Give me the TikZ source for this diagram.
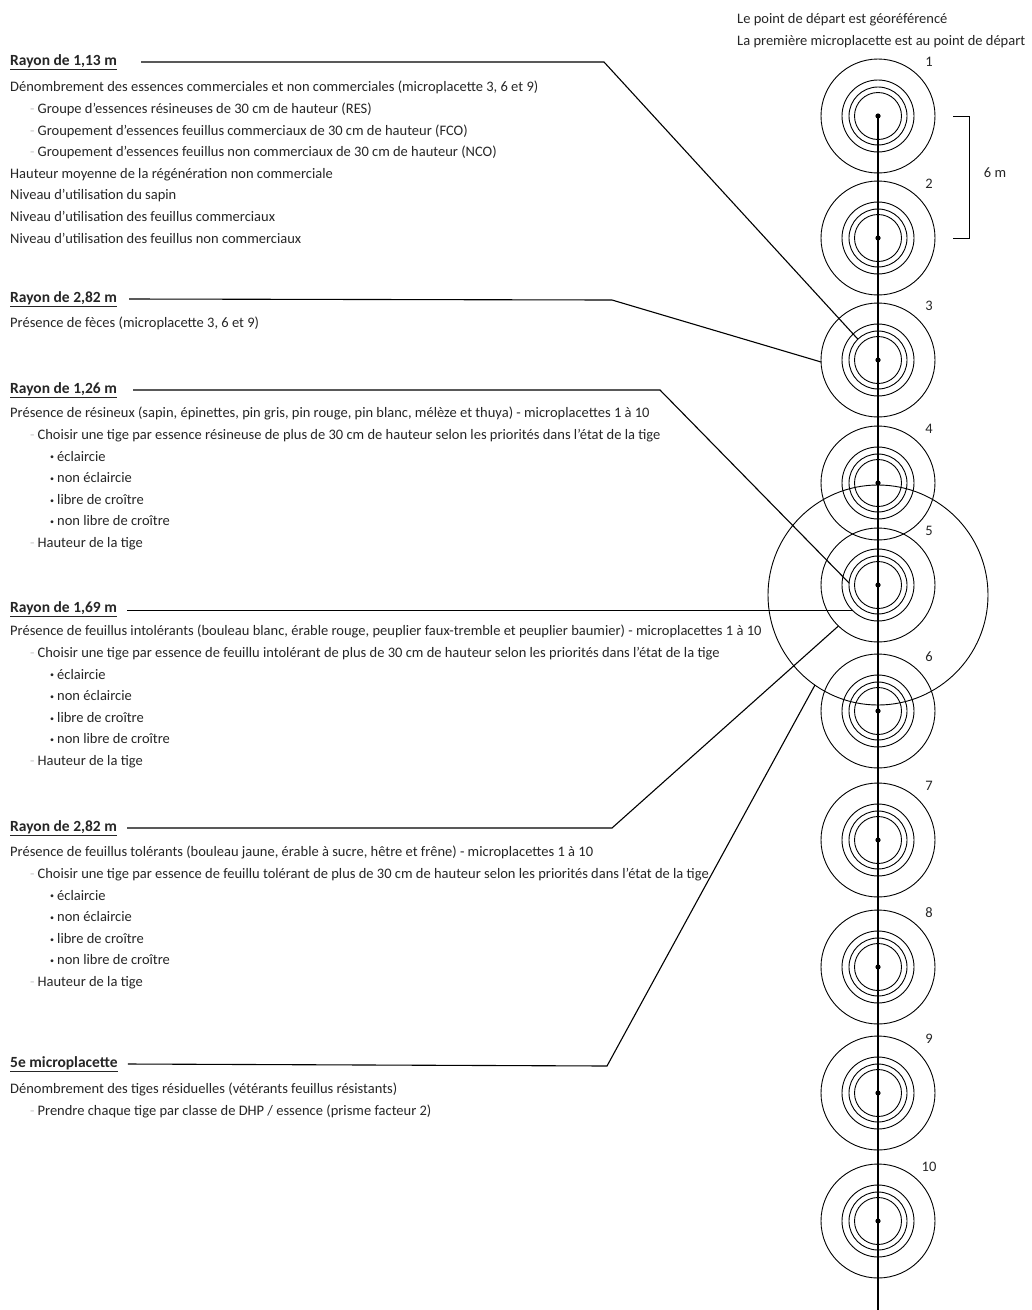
\documentclass[tikz,border=0pt]{standalone}
\usepackage{fontspec}
\setmainfont{Carlito}
\usetikzlibrary{calc}
\definecolor{txtc}{HTML}{262626}
\newcommand{\dsh}{{\color{gray!45}-}\hspace{3pt}}
\newcommand{\bul}{\hspace*{40pt}{\footnotesize\raisebox{1.2pt}{\textbullet}}\hspace{3pt}}
\newcommand{\ind}{\hspace*{20pt}}
\begin{document}
\begin{tikzpicture}[x=1pt,y=-1pt,
  txt/.style={inner sep=0pt,text=txtc,font=\fontsize{14.5}{21.6}\selectfont,align=left},
  head/.style={txt,anchor=west,font=\fontsize{15.5}{16}\selectfont\bfseries},
  body/.style={txt,anchor=north west},
  ring/.style={line width=0.9pt},
  leader/.style={line width=1.1pt},
  num/.style={inner sep=0pt,text=txtc,font=\fontsize{14.5}{16}\selectfont}]
\useasboundingbox (0,0) rectangle (1032,1310);
\fill[white] (0,0) rectangle (1032,1310);

% circle centres
\coordinate (c1) at (878,116);
\coordinate (c2) at (878,238);
\coordinate (c3) at (878,360);
\coordinate (c4) at (878,483);
\coordinate (c5) at (878,585);
\coordinate (c6) at (878,711);
\coordinate (c7) at (878,840);
\coordinate (c8) at (878,967);
\coordinate (c9) at (878,1093);
\coordinate (c10) at (878,1221);
\coordinate (cb) at (878,595);
\coordinate (bottom) at (878,1310);

% big circle around 5
\draw[ring] (cb) circle[radius=110pt];
% microplots
\foreach \i in {1,...,10}{
  \draw[ring] (c\i) circle[radius=57pt];
  \draw[ring] (c\i) circle[radius=36pt];
  \draw[ring] (c\i) circle[radius=29pt];
  \draw[ring] (c\i) circle[radius=23.5pt];
  \fill (c\i) circle[radius=2.6pt];
  \node[num] (n\i) at ($(c\i)+(51,-54)$) {\i};
}
\draw[line width=1.3pt] (c1) -- (bottom);

% bracket 6 m
\coordinate (br1) at ($(c1)+(75,0)$);
\coordinate (br2) at ($(c2)+(75,0)$);
\draw[line width=1pt] (br1) -- ++(16,0) coordinate (br1b) -- (br1b |- br2) -- (br2);
\node[num] (six) at (995,173) {6 m};

% top right text
\node[txt,anchor=west] (top1) at (737,20) {Le point de départ est géoréférencé};
\node[txt,anchor=west] (top2) at (737,42) {La première microplacette est au point de départ};

% ---- block 1
\node[head] (h1) at (10,62) {\underline{Rayon de 1,13 m}};
\node[body] (b1) at (10,81) {Dénombrement des essences commerciales et non commerciales (microplacette 3, 6 et 9)\\
\ind\dsh Groupe d'essences résineuses de 30 cm de hauteur (RES)\\
\ind\dsh Groupement d'essences feuillus commerciaux de 30 cm de hauteur (FCO)\\
\ind\dsh Groupement d'essences feuillus non commerciaux de 30 cm de hauteur (NCO)\\
Hauteur moyenne de la régénération non commerciale\\
Niveau d'utilisation du sapin\\
Niveau d'utilisation des feuillus commerciaux\\
Niveau d'utilisation des feuillus non commerciaux};

% ---- block 2
\node[head] (h2) at (10,299) {\underline{Rayon de 2,82 m}};
\node[body] (b2) at (10,317) {Présence de fèces (microplacette 3, 6 et 9)};

% ---- block 3
\node[head] (h3) at (10,390) {\underline{Rayon de 1,26 m}};
\node[body] (b3) at (10,407) {Présence de résineux (sapin, épinettes, pin gris, pin rouge, pin blanc, mélèze et thuya) - microplacettes 1 à 10\\
\ind\dsh Choisir une tige par essence résineuse de plus de 30 cm de hauteur selon les priorités dans l'état de la tige\\
\bul éclaircie\\
\bul non éclaircie\\
\bul libre de croître\\
\bul non libre de croître\\
\ind\dsh Hauteur de la tige};

% ---- block 4
\node[head] (h4) at (10,609) {\underline{Rayon de 1,69 m}};
\node[body] (b4) at (10,625) {Présence de feuillus intolérants (bouleau blanc, érable rouge, peuplier faux-tremble et peuplier baumier) - microplacettes 1 à 10\\
\ind\dsh Choisir une tige par essence de feuillu intolérant de plus de 30 cm de hauteur selon les priorités dans l'état de la tige\\
\bul éclaircie\\
\bul non éclaircie\\
\bul libre de croître\\
\bul non libre de croître\\
\ind\dsh Hauteur de la tige};

% ---- block 5
\node[head] (h5) at (10,828) {\underline{Rayon de 2,82 m}};
\node[body] (b5) at (10,846) {Présence de feuillus tolérants (bouleau jaune, érable à sucre, hêtre et frêne) - microplacettes 1 à 10\\
\ind\dsh Choisir une tige par essence de feuillu tolérant de plus de 30 cm de hauteur selon les priorités dans l'état de la tige\\
\bul éclaircie\\
\bul non éclaircie\\
\bul libre de croître\\
\bul non libre de croître\\
\ind\dsh Hauteur de la tige};

% ---- block 6
\node[head] (h6) at (10,1064) {\underline{5e microplacette}};
\node[body] (b6) at (10,1083) {Dénombrement des tiges résiduelles (vétérants feuillus résistants)\\
\ind\dsh Prendre chaque tige par classe de DHP / essence (prisme facteur 2)};

% ---- leader lines
\coordinate (e1) at ($(c3)+(226:29)$);
\coordinate (e2) at ($(c3)+(178:57)$);
\coordinate (e3) at ($(c5)+(184:29)$);
\coordinate (e4) at ($(c5)+(135:36)$);
\coordinate (e5) at ($(c5)+(134:57)$);
\coordinate (e6) at ($(cb)+(125:110)$);

\coordinate (s1) at ([xshift=24pt]h1.east);
\coordinate (s2) at ([xshift=12pt]h2.east);
\coordinate (s3) at ([xshift=16pt]h3.east);
\coordinate (s4) at ([xshift=10pt]h4.east);
\coordinate (s5) at ([xshift=10pt]h5.east);
\coordinate (s6) at ([xshift=10pt]h6.east);

\draw[leader] (s1) -- (604,62) coordinate (k1) -- (e1);
\draw[leader] (s2) -- (612,300) coordinate (k2) -- (e2);
\draw[leader] (s3) -- (660,390) coordinate (k3) -- (e3);
\draw[leader] (s4 |- e4) -- (e4);
\draw[leader] (s5) -- (612,828) coordinate (k5) -- (e5);
\draw[leader] (s6) -- (607,1066) coordinate (k6) -- (e6);
\end{tikzpicture}
\end{document}
